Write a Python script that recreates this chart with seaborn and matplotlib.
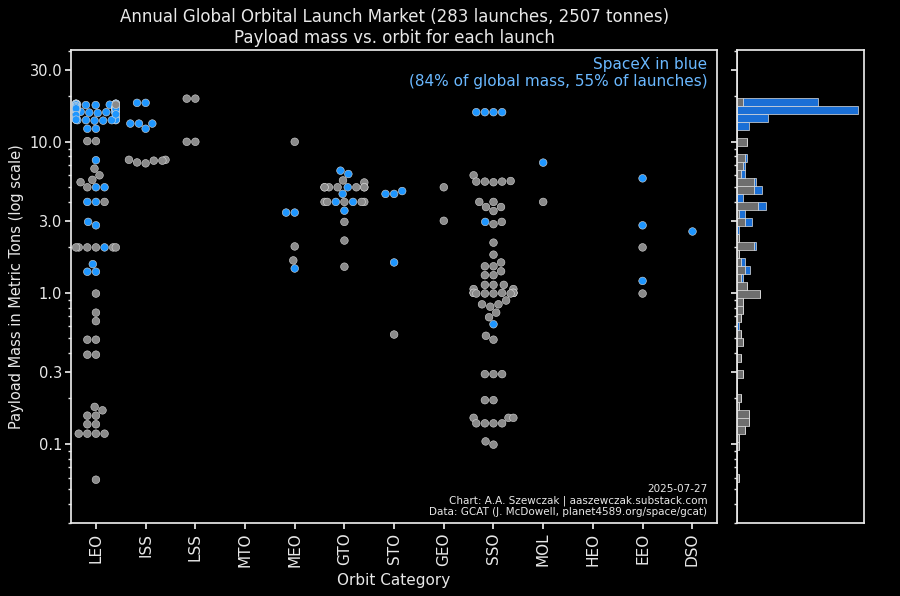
# Payload mass vs. orbit, one dot per launch, with a mass histogram on the side.

import numpy as np
import pandas as pd
import matplotlib
matplotlib.use("Agg")
import matplotlib.pyplot as plt
import seaborn as sns
from matplotlib.ticker import NullFormatter, FixedLocator, FixedFormatter, LogLocator

orbits = ["LEO", "ISS", "LSS", "MTO", "MEO", "GTO", "STO", "GEO", "SSO", "MOL", "HEO", "EEO", "DSO"]

# payload masses in tonnes
leo_spacex = [
    17.6, 17.5, 17.7, 17.6, 17.8, 17.5, 17.6, 17.9, 17.7, 17.6,
    17.5, 17.6, 17.8, 17.7, 17.6, 17.5, 17.6, 17.7, 17.9, 17.6,
    17.5, 17.8, 17.6, 17.7, 17.6, 17.5, 17.6, 17.8, 17.7, 17.6,
    17.5, 17.6, 17.7, 17.6, 17.8, 17.5, 17.6,
    16.8, 16.5, 17.1, 16.2, 16.9, 16.6, 15.9, 17.2, 16.4, 16.7,
    16.0, 16.8, 16.3, 15.7, 17.0, 16.6, 16.1, 16.9, 16.4, 15.8,
    16.7, 17.1, 16.2, 16.5, 16.8, 15.6, 16.3, 16.9, 16.6, 17.0,
    16.4, 16.1, 16.7, 15.9, 16.5, 16.8, 16.2, 17.2, 16.6, 16.0,
    16.9, 16.3, 16.7, 15.5, 16.4, 16.8, 16.1, 17.0, 16.5, 16.6,
    15.8, 16.9, 16.2, 16.7, 16.4, 17.1, 16.3, 16.6, 16.5,
    14.0, 13.9, 14.2, 13.8, 14.5, 13.9, 14.1, 15.0, 13.8, 14.0,
    14.3, 13.9, 14.8, 14.0, 13.9, 15.2,
    12.2, 12.2,
    7.55, 5.0, 5.0, 4.0, 4.0, 2.95, 2.8, 2.0, 1.55, 1.38, 1.38,
]
leo_other = [
    17.6, 10.1, 10.1, 6.64, 6.0, 5.4, 5.6, 5.0, 4.0,
    2.0, 2.0, 2.0, 2.0, 2.0, 2.0,
    0.99, 0.74, 0.65, 0.49, 0.49, 0.39, 0.39,
    0.176, 0.167, 0.154, 0.154, 0.135, 0.135, 0.117, 0.117, 0.117, 0.117, 0.058,
]
iss_spacex = [18.1, 18.1, 13.2, 13.2, 13.2, 12.2]
iss_other = [7.5, 7.6, 7.3, 7.2, 7.5, 7.6]
lss_other = [19.3, 19.3, 10.0, 10.0]
meo_spacex = [3.4, 3.4, 1.45]
meo_other = [10.0, 2.03, 1.64]
gto_spacex = [6.44, 6.12, 5.0, 4.52, 4.0, 4.0, 3.5]
gto_other = [5.38, 5.55, 5.0, 5.0, 5.0, 5.0, 5.0, 5.0, 5.0,
             4.0, 4.0, 4.0, 4.0, 4.0, 2.95, 2.22, 1.49]
sto_spacex = [4.52, 4.52, 4.72, 1.59]
sto_other = [0.53]
geo_other = [5.0, 3.0]
sso_spacex = [15.7, 15.7, 15.7, 15.7, 2.95, 0.62]
sso_other = [
    6.0, 5.4, 5.45, 5.45, 5.5, 5.45, 4.0, 4.0, 3.7, 3.7, 3.48, 2.95, 2.85,
    2.15, 1.79, 1.59, 1.5, 1.5, 1.39, 1.31, 1.31, 1.13, 1.13, 1.13, 1.06, 1.06,
    1.0, 1.0, 1.0, 1.0, 1.0, 1.0, 0.99, 0.99, 0.99, 0.99,
    0.89, 0.84, 0.84, 0.81, 0.74, 0.69, 0.52, 0.49, 0.29, 0.29, 0.29,
    0.195, 0.195, 0.149, 0.149, 0.149, 0.137, 0.137, 0.137, 0.137, 0.104, 0.099,
]
mol_spacex = [7.28]
mol_other = [4.0]
eeo_spacex = [5.73, 2.8, 1.2]
eeo_other = [2.0, 0.99]
dso_spacex = [2.55]

groups = [
    ("LEO", leo_spacex, leo_other), ("ISS", iss_spacex, iss_other), ("LSS", [], lss_other),
    ("MEO", meo_spacex, meo_other), ("GTO", gto_spacex, gto_other), ("STO", sto_spacex, sto_other),
    ("GEO", [], geo_other), ("SSO", sso_spacex, sso_other), ("MOL", mol_spacex, mol_other),
    ("EEO", eeo_spacex, eeo_other), ("DSO", dso_spacex, []),
]
rows = []
for orb, sx, ot in groups:
    rows += [(orb, m, "SpaceX") for m in sx]
    rows += [(orb, m, "Other") for m in ot]
df = pd.DataFrame(rows, columns=["orbit", "mass", "group"])

blue = "#1e96ff"
grey = "#8a8a8a"
fg = "#e8e8e8"

sns.set_theme(style="ticks", rc={
    "figure.facecolor": "black", "axes.facecolor": "black",
    "axes.edgecolor": fg, "axes.labelcolor": fg, "text.color": fg,
    "xtick.color": fg, "ytick.color": fg,
    "xtick.major.size": 4, "ytick.major.size": 4, "ytick.minor.size": 2.2,
    "xtick.major.pad": 3, "ytick.major.pad": 2.5,
})
plt.rcParams["font.family"] = ["DejaVu Sans"]

fig = plt.figure(figsize=(9, 5.96), dpi=100)
ax = fig.add_axes([0.079, 0.1225, 0.7178, 0.7936])
axh = fig.add_axes([0.8189, 0.1225, 0.1411, 0.7936], sharey=ax)

sns.swarmplot(data=df, x="orbit", y="mass", hue="group", order=orbits,
              hue_order=["Other", "SpaceX"], palette={"Other": grey, "SpaceX": blue},
              size=5.5, edgecolor="#d8d8d8", linewidth=0.4, log_scale=True,
              legend=False, ax=ax)

sns.histplot(data=df, y="mass", hue="group", hue_order=["SpaceX", "Other"],
             palette={"Other": "#6e6e6e", "SpaceX": "#1a6fd6"}, multiple="stack",
             log_scale=True, binwidth=0.053, binrange=(-1.516, 1.61),
             edgecolor="#e0e0e0", linewidth=0.5, alpha=1, legend=False, ax=axh)

ax.set_xlim(-0.5, 12.5)
ax.set_ylim(0.03, 40.5)
ax.yaxis.set_major_locator(FixedLocator([0.1, 0.3, 1, 3, 10, 30]))
ax.yaxis.set_major_formatter(FixedFormatter(["0.1", "0.3", "1.0", "3.0", "10.0", "30.0"]))
ax.yaxis.set_minor_locator(LogLocator(subs=np.arange(2, 10)))
ax.yaxis.set_minor_formatter(NullFormatter())
ax.tick_params(axis="y", labelsize=10.5)
ax.tick_params(axis="x", labelrotation=90, labelsize=11)
ax.set_xlabel("Orbit Category", fontsize=11)
ax.set_ylabel("Payload Mass in Metric Tons (log scale)", fontsize=10.5)
ax.set_title("Annual Global Orbital Launch Market (283 launches, 2507 tonnes)\n"
             "Payload mass vs. orbit for each launch", fontsize=12, color=fg, pad=5)
for s in ax.spines.values():
    s.set_color(fg)

ax.text(0.985, 0.985, "SpaceX in blue\n(84% of global mass, 55% of launches)",
        transform=ax.transAxes, ha="right", va="top", fontsize=11, color="#6ab8ff")
ax.text(0.985, 0.012, "2025-07-27\nChart: A.A. Szewczak | aaszewczak.substack.com\n"
        "Data: GCAT (J. McDowell, planet4589.org/space/gcat)",
        transform=ax.transAxes, ha="right", va="bottom", fontsize=7.5, color=fg)

axh.set_xlabel("")
axh.set_ylabel("")
axh.set_xticks([])
axh.tick_params(axis="y", labelleft=False)
for s in axh.spines.values():
    s.set_color(fg)

fig.savefig("out.png", dpi=100, facecolor="black")
